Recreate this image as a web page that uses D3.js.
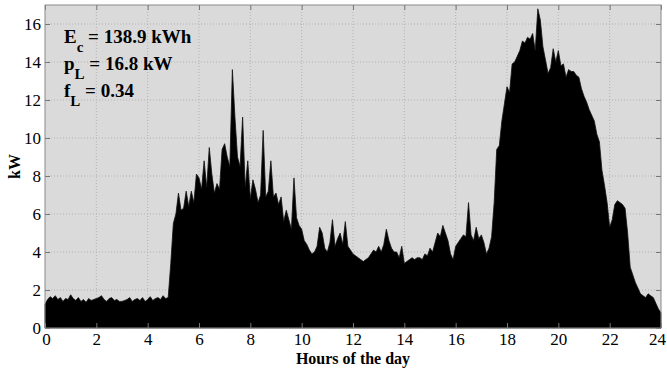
<!DOCTYPE html>
<html>
<head>
<meta charset="utf-8">
<script src="https://cdn.jsdelivr.net/npm/d3@7"></script>
<style>
  body { margin: 0; background: #fff; }
</style>
</head>
<body>
<div id="chart"></div>
<script>
// load samples, one every 6 minutes (10 per hour)
const stepMinutes = 6
const loadKW = [
  // 0 h
  1.25, 1.5, 1.65, 1.55, 1.7, 1.5, 1.6, 1.4, 1.55, 1.5,
  // 1 h
  1.75, 1.55, 1.45, 1.6, 1.4, 1.5, 1.35, 1.55, 1.45, 1.5,
  // 2 h
  1.55, 1.6, 1.7, 1.5, 1.4, 1.55, 1.6, 1.45, 1.5, 1.4,
  // 3 h
  1.4, 1.45, 1.5, 1.6, 1.4, 1.5, 1.55, 1.45, 1.6, 1.4,
  // 4 h
  1.5, 1.65, 1.45, 1.55, 1.6, 1.5, 1.7, 1.55, 1.6, 3.4,
  // 5 h
  5.5, 6.0, 7.1, 6.2, 6.3, 7.2, 6.4, 7.2, 6.6, 8.1,
  // 6 h
  7.9, 7.3, 8.8, 7.4, 9.5, 8.1, 7.1, 7.6, 7.3, 9.4,
  // 7 h
  9.7, 9.0, 8.5, 13.6, 11.1, 9.0, 8.5, 11.1, 7.4, 8.8,
  // 8 h
  6.8, 7.8, 7.3, 6.6, 7.0, 10.4, 6.9, 7.2, 8.8, 6.9,
  // 9 h
  7.1, 6.5, 6.9, 5.6, 6.2, 5.7, 5.2, 7.9, 5.8, 5.4,
  // 10 h
  5.2, 4.6, 4.4, 4.1, 3.9, 4.0, 4.3, 5.3, 5.0, 4.2,
  // 11 h
  4.0, 4.5, 5.7, 4.3, 4.7, 5.0, 4.4, 5.6, 4.3, 4.1,
  // 12 h
  3.9, 3.8, 3.7, 3.6, 3.5, 3.6, 3.7, 3.9, 4.1, 4.0,
  // 13 h
  4.3, 4.0, 4.4, 5.2, 4.6, 4.2, 4.0, 4.0, 3.7, 4.3,
  // 14 h
  3.4, 3.5, 3.6, 3.7, 3.6, 3.7, 3.7, 3.6, 3.9, 3.8,
  // 15 h
  4.2, 4.0, 4.5, 5.0, 4.8, 5.4, 5.0, 4.6, 3.9, 3.6,
  // 16 h
  4.3, 4.5, 4.7, 4.9, 4.8, 6.6, 4.9, 4.6, 5.3, 4.7,
  // 17 h
  4.9, 4.5, 3.9, 4.2, 4.8, 6.6, 9.4, 9.6, 10.9, 11.8,
  // 18 h
  12.7, 12.4, 13.9, 14.0, 14.3, 14.6, 15.1, 15.0, 15.3, 15.2,
  // 19 h
  15.5, 14.6, 16.8, 16.2, 14.8, 14.1, 13.4, 13.7, 14.7, 14.0,
  // 20 h
  14.6, 13.8, 13.9, 13.2, 13.6, 13.5, 13.5, 13.3, 13.2, 12.6,
  // 21 h
  12.2, 11.9, 11.5, 11.2, 10.9, 10.2, 9.8, 8.3, 7.5, 6.6,
  // 22 h
  5.3, 5.7, 6.5, 6.7, 6.6, 6.5, 6.3, 5.0, 3.2, 2.8,
  // 23 h
  2.4, 2.1, 1.8, 1.7, 1.6, 1.8, 1.7, 1.6, 1.3, 1.0,
  // 24 h
  0.8
]
const xTicks = [0, 2, 4, 6, 8, 10, 12, 14, 16, 18, 20, 22, 24]
const yTicks = [0, 2, 4, 6, 8, 10, 12, 14, 16]
const notes = [
  { main: 'E', sub: 'c', rest: ' = 138.9 kWh' },
  { main: 'p', sub: 'L', rest: ' = 16.8 kW' },
  { main: 'f', sub: 'L', rest: ' = 0.34' }
]

const serif = '"Liberation Serif", "Times New Roman", serif'
const width = 667, height = 371
const margin = { top: 5, right: 6, bottom: 43, left: 45 }

const svg = d3.select('#chart').append('svg')
  .attr('width', width)
  .attr('height', height)
  .attr('font-family', serif)

const x = d3.scaleLinear().domain([0, 24]).range([margin.left, width - margin.right])
const y = d3.scaleLinear().domain([0, 17]).range([height - margin.bottom, margin.top])

// plot background
svg.append('rect')
  .attr('x', x(0)).attr('y', y(17))
  .attr('width', x(24) - x(0)).attr('height', y(0) - y(17))
  .attr('fill', '#dadada')

// dotted grid
const grid = svg.append('g').attr('stroke', '#b2b2b2').attr('stroke-dasharray', '1,2').attr('stroke-width', 1)
grid.selectAll('line.gx').data(xTicks.slice(1, -1)).join('line')
  .attr('x1', d => x(d)).attr('x2', d => x(d))
  .attr('y1', y(0)).attr('y2', y(17))
grid.selectAll('line.gy').data(yTicks.slice(1)).join('line')
  .attr('x1', x(0)).attr('x2', x(24))
  .attr('y1', d => y(d)).attr('y2', d => y(d))

// load area
const series = loadKW.map((v, i) => ({ h: i * stepMinutes / 60, v }))
const area = d3.area()
  .x(d => x(d.h))
  .y0(y(0))
  .y1(d => y(d.v))
  .curve(d3.curveLinear)
svg.append('path')
  .datum(series)
  .attr('d', area)
  .attr('fill', '#000')
  .attr('stroke', '#111')
  .attr('stroke-width', 0.8)

// axes with inward ticks
function styleAxis(g) {
  g.attr('font-family', serif)
  g.select('.domain').remove()
  g.selectAll('.tick line').attr('stroke', '#777')
  g.selectAll('.tick text').attr('font-size', '17px').attr('fill', '#000')
}
const xAxis = svg.append('g')
  .attr('transform', `translate(0,${y(0)})`)
  .call(d3.axisBottom(x).tickValues(xTicks).tickFormat(d3.format('d')).tickSize(-5).tickPadding(5))
  .call(styleAxis)
xAxis.selectAll('.tick text').filter(d => d === 24).attr('dx', -4)
xAxis.selectAll('.tick text').filter(d => d === 0).attr('dx', 1)

svg.append('g')
  .attr('transform', `translate(${x(0)},0)`)
  .call(d3.axisLeft(y).tickValues(yTicks).tickFormat(d3.format('d')).tickSize(-5).tickPadding(4))
  .call(styleAxis)
svg.append('g')
  .attr('transform', `translate(0,${y(17)})`)
  .call(d3.axisTop(x).tickValues(xTicks).tickFormat('').tickSize(-5))
  .call(styleAxis)
svg.append('g')
  .attr('transform', `translate(${x(24)},0)`)
  .call(d3.axisRight(y).tickValues(yTicks).tickFormat('').tickSize(-5))
  .call(styleAxis)

// box
svg.append('rect')
  .attr('x', x(0)).attr('y', y(17))
  .attr('width', x(24) - x(0)).attr('height', y(0) - y(17))
  .attr('fill', 'none')
  .attr('stroke', '#8a8a8a')

// axis titles
svg.append('text')
  .attr('x', (x(0) + x(24)) / 2)
  .attr('y', 364)
  .attr('text-anchor', 'middle')
  .attr('font-size', '16px')
  .attr('font-weight', 'bold')
  .text('Hours of the day')
svg.append('text')
  .attr('transform', `translate(20,${y(8.5)}) rotate(-90)`)
  .attr('text-anchor', 'middle')
  .attr('font-size', '16px')
  .attr('font-weight', 'bold')
  .text('kW')

// annotations
const noteText = svg.append('g').attr('font-weight', 'bold')
notes.forEach((n, i) => {
  const t = noteText.append('text')
    .attr('x', 64)
    .attr('y', 43 + i * 27)
    .attr('font-size', '19px')
  t.append('tspan').text(n.main)
  t.append('tspan').attr('dy', 9).attr('font-size', '15px').text(n.sub)
  t.append('tspan').attr('dy', -9).text(n.rest)
})
</script>
</body>
</html>
